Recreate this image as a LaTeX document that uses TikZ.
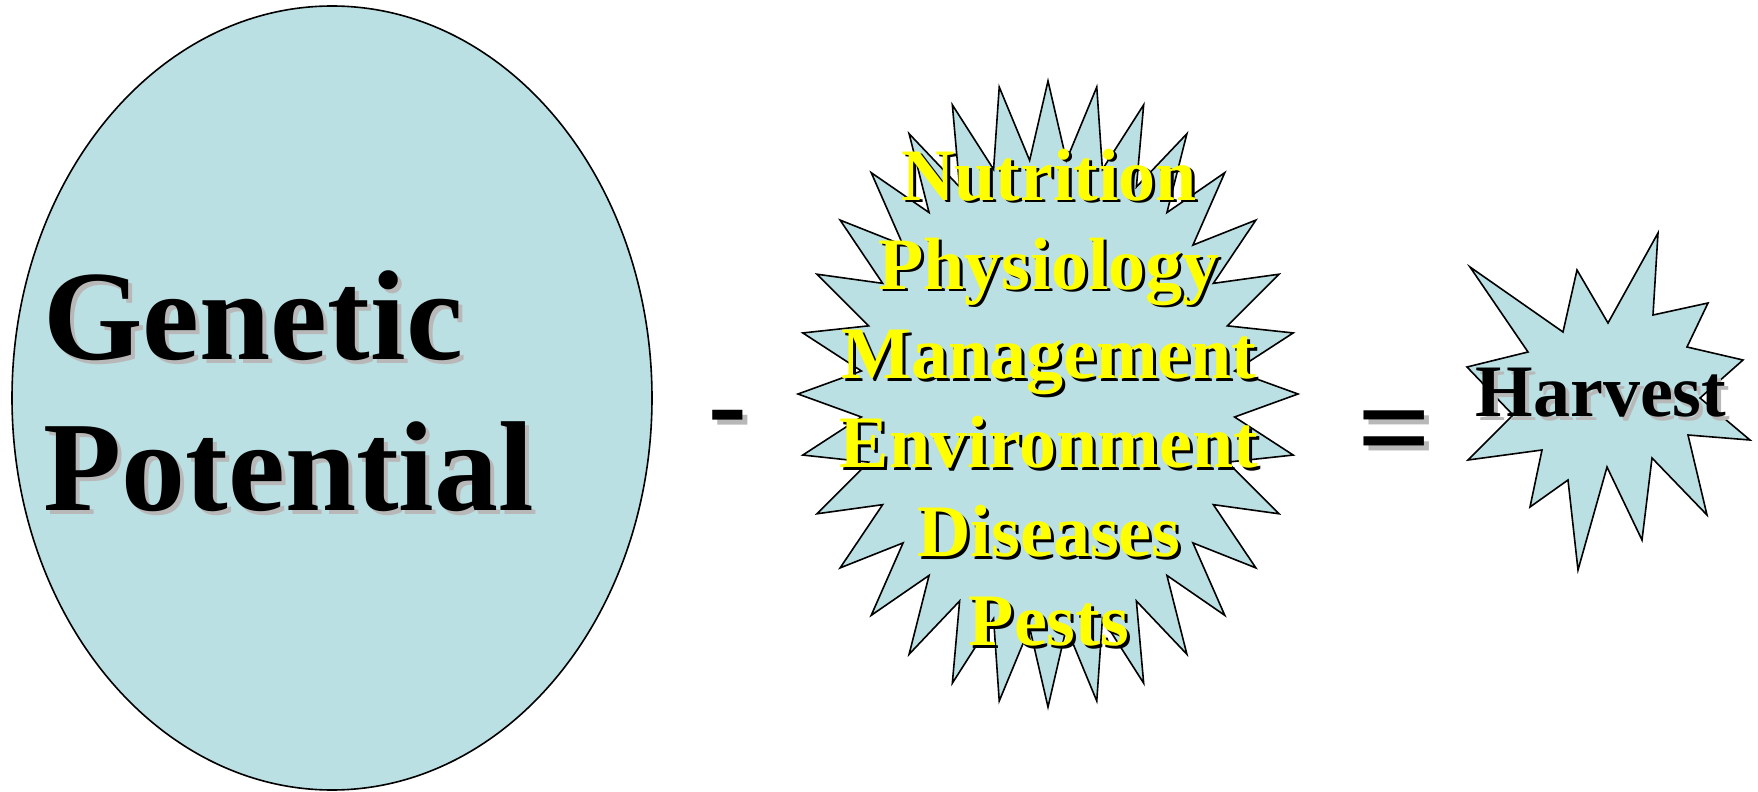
\documentclass[tikz,border=0pt]{standalone}
\usepackage{fontspec}
\setmainfont{Liberation Serif}
\definecolor{seal}{HTML}{BBE0E3}
\definecolor{shade}{HTML}{B8B8B8}
\definecolor{txtyellow}{HTML}{FFFF00}
\begin{document}
\begin{tikzpicture}[x=0.5pt,y=-0.5pt,
  shapefill/.style={fill=seal,draw=black,line width=0.8pt,line join=miter},
  bigtxt/.style={font=\fontsize{64}{64}\selectfont\bfseries,inner sep=0pt,anchor=base west},
  startxt/.style={font=\fontsize{37}{37}\selectfont\bfseries,inner sep=0pt,anchor=base},
  signtxt/.style={inner sep=0pt,anchor=base}]
\useasboundingbox (0,0) rectangle (1758,792);
% ellipse
\draw[shapefill] (332,398) ellipse [x radius=320, y radius=392];
% 32-point star
\draw[shapefill] (1048,81)
  \foreach \i [evaluate=\i as \f using {1-0.25*mod(\i,2)}] in {1,...,63} {
    -- ({1048+250*\f*sin(\i*5.625)},{394-313*\f*cos(\i*5.625)}) } -- cycle;
% explosion
\draw[shapefill] (1470,267) -- (1563,332) -- (1577,270) -- (1608,323) -- (1658,233)
  -- (1653,315) -- (1708,303) -- (1687,347) -- (1743,360) -- (1700,398) -- (1750,440)
  -- (1688,435) -- (1707,515) -- (1652,458) -- (1642,540) -- (1607,467) -- (1578,570)
  -- (1568,480) -- (1530,507) -- (1542,450) -- (1468,460) -- (1513,415) -- (1467,367)
  -- (1528,352) -- cycle;
% Genetic Potential
\node[bigtxt,text=shade] (gens) at (47,363) {Genetic};
\node[bigtxt] (gen) at (43,359) {Genetic};
\node[bigtxt,text=shade] (pots) at (47,514) {Potential};
\node[bigtxt] (pot) at (43,510) {Potential};
% minus
\node[signtxt,font=\fontsize{58}{58}\selectfont\bfseries,text=shade] (minuss) at (732.5,447) {-};
\node[signtxt,font=\fontsize{58}{58}\selectfont\bfseries] (minus) at (727.5,442) {-};
% star text
\foreach \t/\y [count=\k] in {Nutrition/200,Physiology/289,Management/378,Environment/467,Diseases/556,Pests/645}{
  \node[startxt,text=black] (shadow\k) at (1052,\y+3) {\t};
  \node[startxt,text=txtyellow] (factor\k) at (1049,\y) {\t};
}
% equals
\node[signtxt,font=\fontsize{65}{65}\selectfont\bfseries,text=shade] (eqs) at (1400,476) {=};
\node[signtxt,font=\fontsize{65}{65}\selectfont\bfseries] (eq) at (1395,471) {=};
% Harvest
\node[startxt,text=shade] (harvs) at (1605,420) {Harvest};
\node[startxt] (harv) at (1601,416) {Harvest};
\end{tikzpicture}
\end{document}
